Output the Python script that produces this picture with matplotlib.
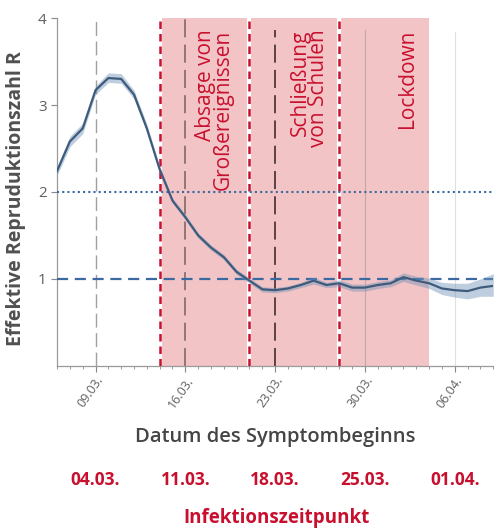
import matplotlib
matplotlib.use("Agg")
import matplotlib.pyplot as plt
import matplotlib.dates as mdates
import matplotlib.transforms as mtransforms
import pandas as pd

plt.rcParams['font.family'] = ['Open Sans', 'DejaVu Sans']

# -------------------------
# Data
# -------------------------
dates = pd.to_datetime([
    '2020-03-06', '2020-03-07', '2020-03-08', '2020-03-09', '2020-03-10', '2020-03-11',
    '2020-03-12', '2020-03-13', '2020-03-14', '2020-03-15', '2020-03-16', '2020-03-17',
    '2020-03-18', '2020-03-19', '2020-03-20', '2020-03-21', '2020-03-22', '2020-03-23',
    '2020-03-24', '2020-03-25', '2020-03-26', '2020-03-27', '2020-03-28', '2020-03-29',
    '2020-03-30', '2020-03-31', '2020-04-01', '2020-04-02', '2020-04-03', '2020-04-04',
    '2020-04-05', '2020-04-06', '2020-04-07', '2020-04-08', '2020-04-09',
])
r_value = [2.24, 2.58, 2.73, 3.17, 3.31, 3.30, 3.12, 2.73, 2.26, 1.90, 1.71, 1.50,
           1.36, 1.25, 1.08, 0.98, 0.88, 0.87, 0.89, 0.93, 0.98, 0.93, 0.95, 0.90,
           0.90, 0.93, 0.95, 1.02, 0.98, 0.95, 0.89, 0.87, 0.86, 0.90, 0.92]
r_lower = [2.19, 2.52, 2.67, 3.12, 3.26, 3.25, 3.07, 2.69, 2.22, 1.87, 1.68, 1.47,
           1.33, 1.22, 1.05, 0.95, 0.85, 0.84, 0.86, 0.90, 0.94, 0.90, 0.91, 0.86,
           0.86, 0.89, 0.91, 0.97, 0.93, 0.89, 0.82, 0.79, 0.77, 0.80, 0.80]
r_upper = [2.29, 2.64, 2.79, 3.22, 3.37, 3.36, 3.17, 2.78, 2.30, 1.93, 1.74, 1.53,
           1.39, 1.28, 1.11, 1.01, 0.91, 0.90, 0.92, 0.96, 1.02, 0.96, 0.99, 0.94,
           0.94, 0.97, 0.99, 1.07, 1.03, 1.01, 0.96, 0.95, 0.95, 1.00, 1.06]

# interventions (symptom-onset scale)
interventions = pd.to_datetime(['2020-03-14', '2020-03-21', '2020-03-28'])
shade_start = pd.Timestamp('2020-03-14')
shade_end = pd.Timestamp('2020-04-04')
intervention_labels = ['Absage von\nGroßereignissen', 'Schließung\nvon Schulen', 'Lockdown']
label_dates = pd.to_datetime(['2020-03-18 06:00', '2020-03-25 16:00', '2020-04-02 08:00'])

week_ticks = pd.to_datetime(['2020-03-09', '2020-03-16', '2020-03-23', '2020-03-30', '2020-04-06'])
infection_labels = ['04.03.', '11.03.', '18.03.', '25.03.', '01.04.']

red = '#c8102e'
blue_line = '#3e5b7c'
blue_ref = '#3b6aa3'
grey_txt = '#505050'

# -------------------------
# Figure
# -------------------------
fig = plt.figure(figsize=(4.98, 5.31), dpi=100)
ax = fig.add_axes([0.1145, 0.311, 0.876, 0.655])

ax.axvspan(shade_start, shade_end, color='#f2c4c6', lw=0, zorder=0)

# weekly vertical guide lines
ax.axvline(week_ticks[0], color='#a0a0a0', lw=1.0, ls=(0, (10, 4)), zorder=1)
ax.axvline(week_ticks[1], color='#8a7070', lw=1.3, ls=(0, (10, 4)), zorder=1)
ax.axvline(week_ticks[2], ymax=0.965, color='#503838', lw=1.3, ls=(0, (10, 4)), zorder=1)
ax.axvline(week_ticks[3], ymax=0.965, color='#c0a8a8', lw=0.8, zorder=1)
ax.axvline(week_ticks[4], ymax=0.96, color='#e0e0e0', lw=0.8, zorder=1)

for d in interventions:
    ax.axvline(d, color='white', lw=3.0, zorder=2)
    ax.axvline(d, color=red, lw=1.8, ls=(0, (3, 2)), zorder=3)

ax.axhline(2, color=blue_ref, lw=1.5, ls=(0, (1, 1.5)), zorder=3)
ax.axhline(1, color=blue_ref, lw=1.6, ls=(0, (5, 3)), zorder=3)

ax.fill_between(dates, r_lower, r_upper, color='#6f93b8', alpha=0.45, lw=0, zorder=4)
ax.plot(dates, r_value, color=blue_line, lw=1.6, zorder=5)

for d, txt in zip(label_dates, intervention_labels):
    ax.text(d, 3.87, txt, rotation=90, ha='center', va='top', multialignment='right',
            color=red, fontsize=15, linespacing=0.82, zorder=6)

# axes styling
ax.set_xlim(pd.Timestamp('2020-03-06'), pd.Timestamp('2020-04-09'))
ax.set_ylim(0, 4)
ax.set_yticks([1, 2, 3, 4])
ax.set_xticks(week_ticks)
ax.xaxis.set_major_formatter(mdates.DateFormatter('%d.%m.'))
ax.xaxis.set_minor_locator(mdates.DayLocator())
ax.tick_params(axis='x', which='major', length=4, color='#888888', labelsize=9,
               labelcolor='#606060', labelrotation=55, pad=2)
ax.tick_params(axis='x', which='minor', length=2.5, color='#888888')
ax.tick_params(axis='y', length=4, color='#888888', labelsize=11, labelcolor='#606060')
for lbl in ax.get_xticklabels():
    lbl.set_ha('right')
    lbl.set_rotation_mode('anchor')
for side in ['top', 'right']:
    ax.spines[side].set_visible(False)
for side in ['left', 'bottom']:
    ax.spines[side].set_color('#9a9a9a')
    ax.spines[side].set_linewidth(0.9)

ax.set_ylabel('Effektive Repruduktionszahl R', fontsize=14, fontweight='bold',
              color=grey_txt)
ax.yaxis.set_label_coords(-0.07, 0.48)

fig.text(0.552, 0.177, 'Datum des Symptombeginns', ha='center', va='center',
         fontsize=14.5, fontweight='semibold', color='#454545')

trans = mtransforms.blended_transform_factory(ax.transData, fig.transFigure)
for d, txt in zip(week_ticks, infection_labels):
    fig.text(mdates.date2num(d), 0.096, txt, transform=trans, ha='center', va='center',
             fontsize=12.5, fontweight='bold', color=red)
fig.text(0.555, 0.025, 'Infektionszeitpunkt', ha='center', va='center',
         fontsize=13.5, fontweight='bold', color=red)

fig.savefig('out.png', dpi=100)
